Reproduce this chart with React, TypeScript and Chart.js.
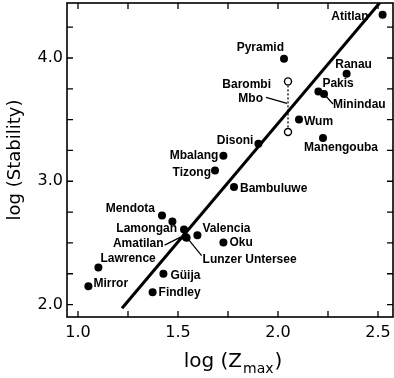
import React, { useEffect, useRef } from "react";
import { Chart, registerables } from "chart.js";

Chart.register(...registerables);

// ---- data ----
const lakeNames = [
  "Atitlan", "Pyramid", "Ranau", "Pakis", "Minindau", "Wum", "Manengouba",
  "Disoni", "Mbalang", "Tizong", "Bambuluwe", "Mendota", "", "Lamongan",
  "Amatilan", "Lunzer Untersee", "Valencia", "Oku", "Lawrence", "Mirror",
  "Güija", "Findley",
];
const logZmax = [
  2.523, 2.03, 2.343, 2.202, 2.23, 2.105, 2.225,
  1.902, 1.727, 1.685, 1.78, 1.42, 1.472, 1.53,
  1.538, 1.543, 1.597, 1.727, 1.102, 1.052,
  1.427, 1.373,
];
const logStability = [
  4.351, 3.994, 3.873, 3.729, 3.708, 3.502, 3.35,
  3.304, 3.207, 3.088, 2.953, 2.722, 2.674, 2.608,
  2.547, 2.542, 2.563, 2.503, 2.30, 2.149,
  2.249, 2.10,
];
// Barombi Mbo: two estimates (open circles)
const barombiZ = [2.05, 2.05];
const barombiStab = [3.81, 3.40];
// regression line end points
const fitZ = [1.22, 2.51];
const fitStab = [1.97, 4.45];

const xTickLabels = [1.0, 1.5, 2.0, 2.5];
const xMinorTicks = [1.0, 1.25, 1.5, 1.75, 2.0, 2.25, 2.5];
const yTickLabels = [2.0, 3.0, 4.0];
const yMinorTicks = [2.0, 2.25, 2.5, 2.75, 3.0, 3.25, 3.5, 3.75, 4.0, 4.25];

// ---- label layout (pixel offsets from point) ----
type Place = { dx: number; dy: number; align: CanvasTextAlign; lead?: [number, number, number, number] };
const labelPlace: Record<string, Place> = {
  Atitlan: { dx: -14, dy: 2, align: "right" },
  Pyramid: { dx: 0, dy: -11, align: "right" },
  Ranau: { dx: 7, dy: -9, align: "center" },
  Pakis: { dx: 4, dy: -8, align: "left" },
  Minindau: { dx: 9, dy: 11, align: "left", lead: [0, 0, 9, 10] },
  Wum: { dx: 5, dy: 2, align: "left" },
  Manengouba: { dx: 18, dy: 10, align: "center" },
  Disoni: { dx: -5, dy: -3, align: "right" },
  Mbalang: { dx: -5, dy: 0, align: "right" },
  Tizong: { dx: -4, dy: 2, align: "right" },
  Bambuluwe: { dx: 6, dy: 2, align: "left" },
  Mendota: { dx: -7, dy: -7, align: "right" },
  Lamongan: { dx: -7, dy: -1, align: "right" },
  Amatilan: { dx: -22, dy: 7, align: "right", lead: [-21, 8, -5, 0] },
  "Lunzer Untersee": { dx: 16, dy: 22, align: "left", lead: [2, 2, 15, 18] },
  Valencia: { dx: 5, dy: -6, align: "left" },
  Oku: { dx: 6, dy: 0, align: "left" },
  Lawrence: { dx: 2, dy: -9, align: "left" },
  Mirror: { dx: 5, dy: -2, align: "left" },
  "Güija": { dx: 7, dy: 2, align: "left" },
  Findley: { dx: 6, dy: 0, align: "left" },
};

const LABEL_FONT = "bold 12px 'Liberation Sans', Arial, sans-serif";

const decorPlugin = {
  id: "decor",
  afterDatasetsDraw(chart: any) {
    const { ctx, chartArea: a, scales } = chart;
    const xs = scales.x;
    const ys = scales.y;
    ctx.save();
    // frame
    ctx.strokeStyle = "#000";
    ctx.lineWidth = 1.6;
    ctx.strokeRect(a.left, a.top, a.right - a.left, a.bottom - a.top);
    // inward ticks
    ctx.lineWidth = 1.3;
    const tl = 6;
    ctx.beginPath();
    xMinorTicks.forEach((v) => {
      const px = xs.getPixelForValue(v);
      ctx.moveTo(px, a.bottom);
      ctx.lineTo(px, a.bottom - tl);
      ctx.moveTo(px, a.top);
      ctx.lineTo(px, a.top + tl);
    });
    yMinorTicks.forEach((v) => {
      const py = ys.getPixelForValue(v);
      ctx.moveTo(a.left, py);
      ctx.lineTo(a.left + tl, py);
      ctx.moveTo(a.right, py);
      ctx.lineTo(a.right - tl, py);
    });
    ctx.stroke();

    // point labels
    ctx.fillStyle = "#000";
    ctx.font = LABEL_FONT;
    ctx.textBaseline = "middle";
    ctx.lineWidth = 1.2;
    lakeNames.forEach((name, i) => {
      const p = labelPlace[name];
      if (!name || !p) return;
      const px = xs.getPixelForValue(logZmax[i]);
      const py = ys.getPixelForValue(logStability[i]);
      ctx.textAlign = p.align;
      ctx.fillText(name, px + p.dx, py + p.dy);
      if (p.lead) {
        ctx.beginPath();
        ctx.moveTo(px + p.lead[0], py + p.lead[1]);
        ctx.lineTo(px + p.lead[2], py + p.lead[3]);
        ctx.stroke();
      }
    });
    // Barombi Mbo labels
    const bx = xs.getPixelForValue(barombiZ[0]);
    const by = ys.getPixelForValue(barombiStab[0]);
    ctx.textAlign = "right";
    ctx.fillText("Barombi", bx - 17, by + 3);
    ctx.fillText("Mbo", bx - 25, by + 17);
    ctx.beginPath();
    ctx.moveTo(bx - 22, by + 16);
    ctx.lineTo(bx - 1, by + 22);
    ctx.stroke();

    // x-axis title with subscript
    const cx = (a.left + a.right) / 2 + 3;
    const mainFont = "20px 'DejaVu Sans', sans-serif";
    const subFont = "14px 'DejaVu Sans', sans-serif";
    ctx.textBaseline = "alphabetic";
    ctx.textAlign = "left";
    ctx.font = mainFont;
    const w1 = ctx.measureText("log (Z").width;
    const w3 = ctx.measureText(")").width;
    ctx.font = subFont;
    const w2 = ctx.measureText("max").width;
    let x0 = cx - (w1 + w2 + w3 + 2) / 2;
    const base = 367;
    ctx.font = mainFont;
    ctx.fillText("log (Z", x0, base);
    x0 += w1 + 1;
    ctx.font = subFont;
    ctx.fillText("max", x0, base + 6);
    x0 += w2 + 1;
    ctx.font = mainFont;
    ctx.fillText(")", x0, base);
    ctx.restore();
  },
};

export default function App() {
  const ref = useRef<HTMLCanvasElement>(null);
  useEffect(() => {
    if (!ref.current) return;
    const pts = logZmax.map((x, i) => ({ x, y: logStability[i] }));
    const chart = new Chart(ref.current, {
      type: "scatter",
      data: {
        datasets: [
          {
            data: pts,
            pointRadius: 4,
            pointHoverRadius: 4,
            pointBackgroundColor: "#000",
            pointBorderWidth: 0,
            order: 0,
          },
          {
            data: barombiZ.map((x, i) => ({ x, y: barombiStab[i] })),
            pointRadius: 3.5,
            pointHoverRadius: 3.5,
            pointBackgroundColor: "#fff",
            pointBorderColor: "#000",
            pointBorderWidth: 1.4,
            order: 1,
          },
          {
            data: barombiZ.map((x, i) => ({ x, y: barombiStab[i] })),
            showLine: true,
            borderColor: "#000",
            borderWidth: 1.3,
            borderDash: [2, 2],
            pointRadius: 0,
            pointHoverRadius: 0,
            order: 2,
          },
          {
            data: fitZ.map((x, i) => ({ x, y: fitStab[i] })),
            showLine: true,
            borderColor: "#000",
            borderWidth: 3,
            pointRadius: 0,
            pointHoverRadius: 0,
            order: 3,
          },
        ],
      },
      options: {
        animation: false,
        responsive: false,
        events: [],
        layout: { autoPadding: false, padding: { top: 3, right: 1, left: 0, bottom: 0 } },
        plugins: { legend: { display: false }, tooltip: { enabled: false } },
        scales: {
          x: {
            type: "linear",
            min: 0.945,
            max: 2.575,
            afterBuildTicks: (s: any) => {
              s.ticks = xTickLabels.map((v) => ({ value: v }));
            },
            afterFit: (s: any) => {
              s.height = 61;
              s.paddingLeft = 0;
              s.paddingRight = 0;
            },
            ticks: {
              callback: (v: any) => Number(v).toFixed(1),
              font: { size: 16, family: "'DejaVu Sans', sans-serif" },
              color: "#000",
              padding: 6,
              maxRotation: 0,
              autoSkip: false,
            },
            grid: { display: false, drawTicks: false },
            border: { display: false },
          },
          y: {
            type: "linear",
            min: 1.899,
            max: 4.446,
            afterBuildTicks: (s: any) => {
              s.ticks = yTickLabels.map((v) => ({ value: v }));
            },
            afterFit: (s: any) => {
              s.width = 67;
              s.paddingTop = 0;
              s.paddingBottom = 0;
            },
            ticks: {
              callback: (v: any) => Number(v).toFixed(1),
              font: { size: 16, family: "'DejaVu Sans', sans-serif" },
              color: "#000",
              padding: 4,
              autoSkip: false,
            },
            grid: { display: false, drawTicks: false },
            border: { display: false },
            title: {
              display: true,
              text: "log (Stability)",
              color: "#000",
              font: { size: 18, family: "'DejaVu Sans', sans-serif" },
              padding: { top: 5, bottom: 0 },
            },
          },
        },
      },
      plugins: [decorPlugin],
    });
    return () => chart.destroy();
  }, []);
  return (
    <div style={{ position: "absolute", left: 0, top: 0, width: 394, height: 378, background: "#fff" }}>
      <canvas ref={ref} width={394} height={378} />
    </div>
  );
}
